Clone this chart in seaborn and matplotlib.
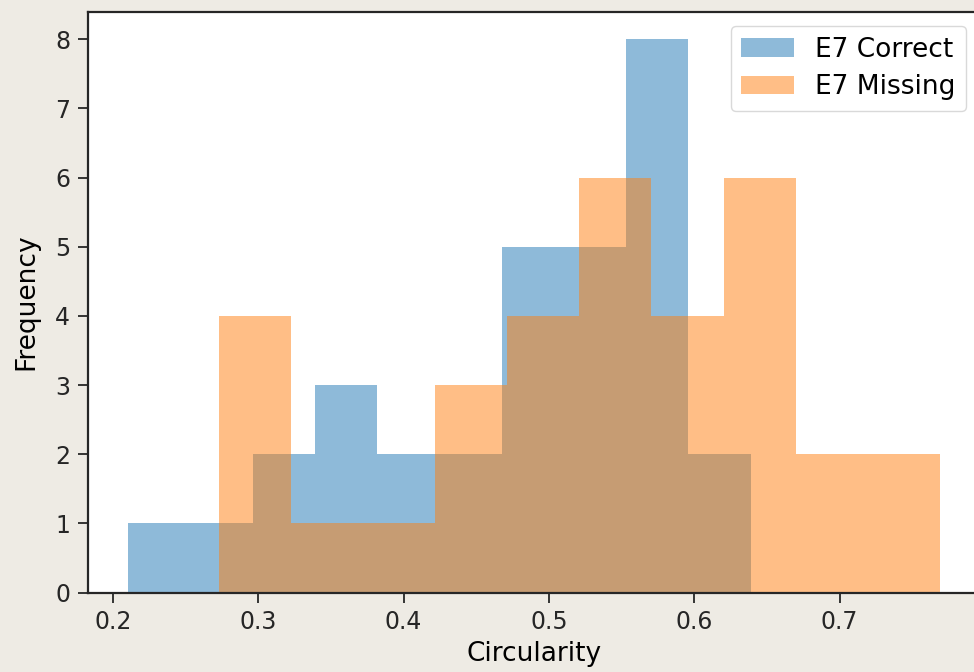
import numpy as np
import matplotlib
matplotlib.use("Agg")
import matplotlib.pyplot as plt
import seaborn as sns

# Data
correct_range = (0.2104, 0.6387)
correct_counts = [1, 1, 2, 3, 2, 2, 5, 5, 8, 2]
missing_range = (0.2727, 0.7691)
missing_counts = [4, 1, 1, 3, 4, 6, 4, 6, 2, 2]
labels = ["E7 Correct", "E7 Missing"]
x_ticks = [0.2, 0.3, 0.4, 0.5, 0.6, 0.7]
y_ticks = [0, 1, 2, 3, 4, 5, 6, 7, 8]


def centers(rng, counts):
    n = len(counts)
    w = (rng[1] - rng[0]) / n
    return [rng[0] + (i + 0.5) * w for i in range(n)]


plt.rcParams['font.family'] = ['DejaVu Sans']
bg = '#eeebe4'
fig = plt.figure(figsize=(9.74, 6.72), dpi=100, facecolor=bg)
ax = fig.add_axes([87.5 / 974, (672 - 592.6) / 672, (980.6 - 87.5) / 974, (592.6 - 11.5) / 672])
ax.set_facecolor('white')

for rng, cnt, lab, col in [(correct_range, correct_counts, labels[0], '#1f77b4'),
                           (missing_range, missing_counts, labels[1], '#ff7f0e')]:
    sns.histplot(x=centers(rng, cnt), weights=cnt, bins=len(cnt), binrange=rng,
                 stat='count', alpha=0.5, linewidth=0, color=col, label=lab, ax=ax)

ax.set_xticks(x_ticks)
ax.set_xticklabels([f"{t:.1f}" for t in x_ticks])
ax.set_yticks(y_ticks)
ax.set_ylim(0, 8.4)
ax.set_xlabel("Circularity", fontsize=19, labelpad=5)
ax.set_ylabel("Frequency", fontsize=19, labelpad=11)
ax.tick_params(labelsize=17, length=7.5, width=1.3, pad=5, colors='#262626', labelcolor='#262626')
for s in ax.spines.values():
    s.set_linewidth(1.6)
    s.set_color('#262626')

leg = ax.legend(loc='upper right', fontsize=19, frameon=True, borderaxespad=0.55,
                labelspacing=0.45)
leg.get_frame().set_edgecolor('#d0d0d0')

fig.savefig("out.png", dpi=100, facecolor=bg)
